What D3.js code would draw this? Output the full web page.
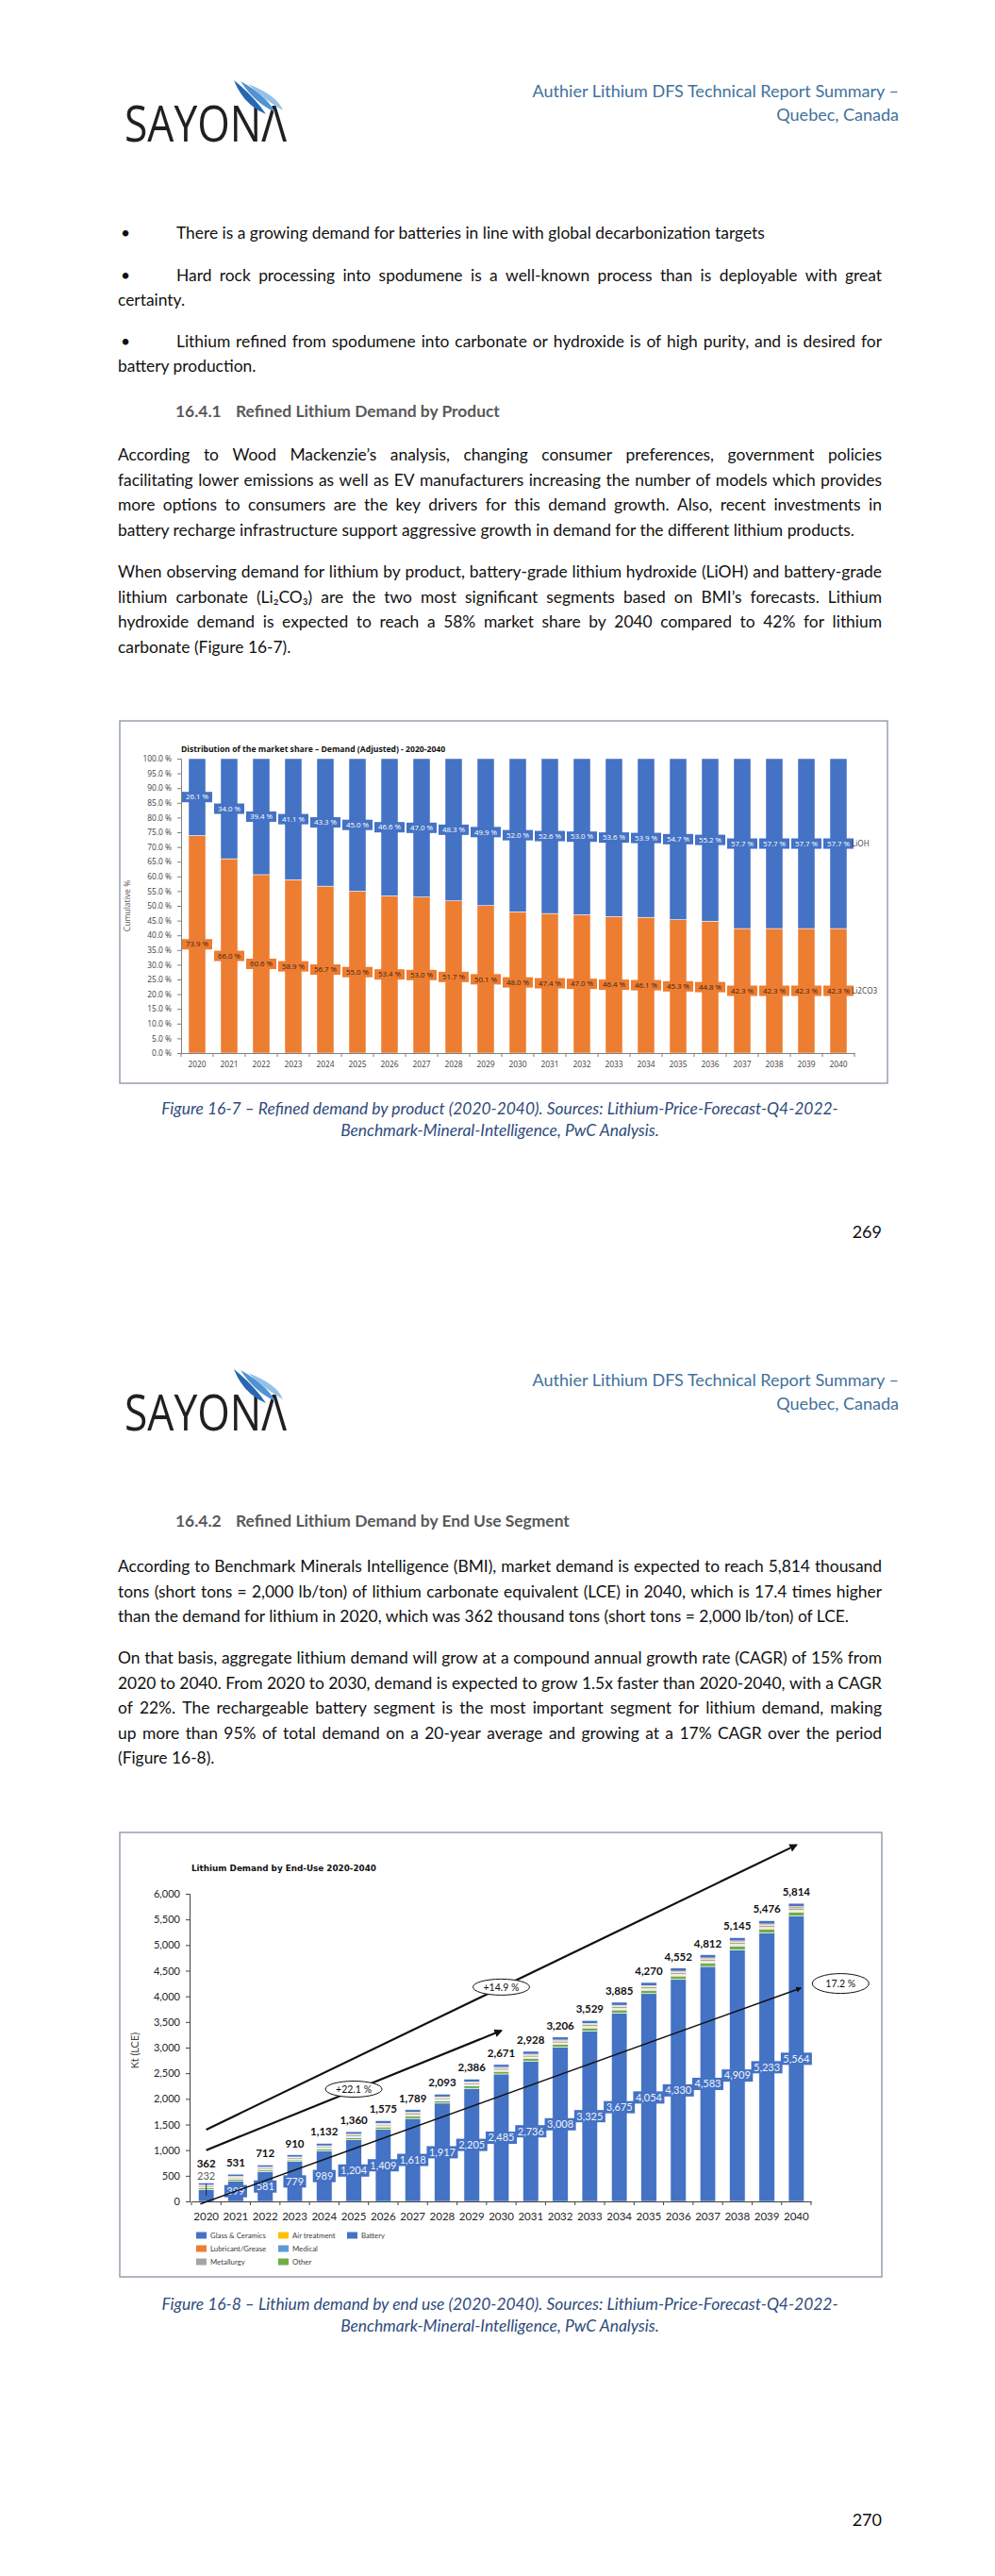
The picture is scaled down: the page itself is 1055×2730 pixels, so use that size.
<!DOCTYPE html>
<html>
<head>
<meta charset="utf-8">
<script src="https://cdn.jsdelivr.net/npm/d3@7"></script>
<style>
  body { margin: 0; background: #fff; }
  svg { display: block; }
</style>
</head>
<body>
<svg id="page" width="1055" height="2730"></svg>
<script>
// ---------- Figure 16-7 data (market share, %) ----------
const shareYears = [2020, 2021, 2022, 2023, 2024, 2025, 2026, 2027, 2028, 2029, 2030,
                    2031, 2032, 2033, 2034, 2035, 2036, 2037, 2038, 2039, 2040];
const li2co3Share = [73.9, 66.0, 60.6, 58.9, 56.7, 55.0, 53.4, 53.0, 51.7, 50.1, 48.0,
                     47.4, 47.0, 46.4, 46.1, 45.3, 44.8, 42.3, 42.3, 42.3, 42.3];
const liohShare = [26.1, 34.0, 39.4, 41.1, 43.3, 45.0, 46.6, 47.0, 48.3, 49.9, 52.0,
                   52.6, 53.0, 53.6, 53.9, 54.7, 55.2, 57.7, 57.7, 57.7, 57.7];
const shareTicks = [0, 5, 10, 15, 20, 25, 30, 35, 40, 45, 50, 55, 60, 65, 70, 75, 80, 85, 90, 95, 100];

// ---------- Figure 16-8 data (Kt LCE) ----------
const demandYears = shareYears;
const demandTotal = [362, 531, 712, 910, 1132, 1360, 1575, 1789, 2093, 2386, 2671,
                     2928, 3206, 3529, 3885, 4270, 4552, 4812, 5145, 5476, 5814];
const battery = [232, 399, 581, 779, 989, 1204, 1409, 1618, 1917, 2205, 2485,
                 2736, 3008, 3325, 3675, 4054, 4330, 4583, 4909, 5233, 5564];
const glassCeramics = [45, 45, 45, 44, 47, 50, 52, 53, 54, 55, 56, 57, 58, 59, 60, 61, 62, 63, 64, 65, 66];
const lubricant = [15, 15, 15, 15, 16, 17, 18, 18, 19, 19, 20, 20, 21, 21, 22, 22, 23, 23, 24, 24, 25];
const metallurgy = [25, 25, 25, 25, 27, 29, 31, 32, 33, 34, 35, 36, 37, 38, 39, 40, 41, 42, 43, 44, 45];
const airTreatment = [10, 10, 10, 10, 11, 12, 13, 13, 14, 14, 14, 15, 15, 16, 16, 17, 17, 18, 18, 19, 19];
const medical = [5, 6, 6, 6, 7, 8, 9, 9, 9, 10, 10, 10, 11, 11, 12, 12, 12, 13, 13, 14, 14];
const other = [30, 31, 30, 31, 35, 40, 43, 46, 47, 49, 51, 54, 56, 59, 61, 64, 67, 70, 74, 77, 81];
const demandTicks = [0, 500, 1000, 1500, 2000, 2500, 3000, 3500, 4000, 4500, 5000, 5500, 6000];
// trend arrows, in (year, Kt) space
const trends = [
  { from: [2020, 1400], to: [2040, 6950], label: '+14.9 %', at: [2030, 4180], w: 2.2 },
  { from: [2020, 1000], to: [2030, 3330], label: '+22.1 %', at: [2025, 2190], w: 2.2 },
  { from: [2019.8, -50], to: [2040.15, 4160], label: '17.2 %', at: [2041.5, 4250], w: 1.5 }
];

const svg = d3.select('#page');
const BODY = 'Lato, "Open Sans", sans-serif';

// ---------- text helpers ----------
const styles = {
  header:  { family: BODY, size: 18, fill: '#41719C' },
  body:    { family: BODY, size: 17.4, fill: '#111' },
  heading: { family: BODY, size: 17.4, fill: '#595959', weight: 'bold' },
  caption: { family: BODY, size: 17.4, fill: '#2F4B7C', italic: true },
  pagenum: { family: BODY, size: 18, fill: '#111' }
};

function styled(sel, style) {
  return sel.attr('font-family', style.family)
    .attr('font-size', style.size)
    .attr('fill', style.fill)
    .attr('font-weight', style.weight || 'normal')
    .attr('font-style', style.italic ? 'italic' : 'normal');
}

function textLine(str, x, y, style, opts = {}) {
  if (!opts.width) {
    return styled(svg.append('text'), style)
      .attr('x', x).attr('y', y)
      .attr('text-anchor', opts.anchor || 'start')
      .text(str);
  }
  // justify: every word is its own text, spread so the line fills the width
  const g = svg.append('g');
  const words = str.split(/\s+/);
  const nodes = words.map(w => styled(g.append('text'), style).attr('y', y).text(w));
  const widths = nodes.map(n => n.node().getComputedTextLength());
  const gap = (opts.width - d3.sum(widths)) / (words.length - 1);
  let cx = x;
  nodes.forEach((n, i) => { n.attr('x', cx); cx += widths[i] + gap; });
  return g;
}

function drawHeader(dy) {
  textLine('Authier Lithium DFS Technical Report Summary –', 953, 103 + dy, styles.header, { anchor: 'end' });
  textLine('Quebec, Canada', 953, 128 + dy, styles.header, { anchor: 'end' });

  const g = svg.append('g').attr('transform', `translate(132, ${113 + dy})`);
  g.append('text')
    .attr('x', 0).attr('y', 37)
    .attr('font-family', '"Open Sans", sans-serif')
    .attr('font-size', 53)
    .attr('textLength', 172)
    .attr('lengthAdjust', 'spacingAndGlyphs')
    .attr('fill', '#231f20')
    .text('SAYONΛ');
  const blades = [
    { d: 'M116,-28 Q126,-2 150,8 Q138,-10 116,-28 Z', c: '#2867b2' },
    { d: 'M123,-27 Q138,-4 160,6 Q150,-12 123,-27 Z', c: '#4f93d2' },
    { d: 'M131,-24 Q150,-6 168,4 Q162,-12 131,-24 Z', c: '#94c1e8' }
  ];
  g.selectAll('path.blade').data(blades).join('path')
    .attr('class', 'blade')
    .attr('d', d => d.d)
    .attr('fill', d => d.c);
}

function bullet(y) {
  styled(svg.append('text'), styles.body).attr('x', 128).attr('y', y).text('•');
}

// ---------- page 1 text ----------
drawHeader(0);

bullet(253);
textLine('There is a growing demand for batteries in line with global decarbonization targets', 187, 253, styles.body);
bullet(298);
textLine('Hard rock processing into spodumene is a well-known process than is deployable with great', 187, 298, styles.body, { width: 748 });
textLine('certainty.', 125, 324, styles.body);
bullet(368);
textLine('Lithium refined from spodumene into carbonate or hydroxide is of high purity, and is desired for', 187, 368, styles.body, { width: 748 });
textLine('battery production.', 125, 394, styles.body);

textLine('16.4.1', 186, 442, styles.heading);
textLine('Refined Lithium Demand by Product', 250, 442, styles.heading);

const para1 = [
  ['According to Wood Mackenzie’s analysis, changing consumer preferences, government policies', true],
  ['facilitating lower emissions as well as EV manufacturers increasing the number of models which provides', true],
  ['more options to consumers are the key drivers for this demand growth.  Also, recent investments in', true],
  ['battery recharge infrastructure support aggressive growth in demand for the different lithium products.', false]
];
para1.forEach((l, i) => textLine(l[0], 125, 488 + i * 26.7, styles.body, l[1] ? { width: 810 } : {}));

const para2 = [
  ['When observing demand for lithium by product, battery-grade lithium hydroxide (LiOH) and battery-grade', true],
  ['lithium carbonate (Li₂CO₃) are the two most significant segments based on BMI’s forecasts.  Lithium', true],
  ['hydroxide demand is expected to reach a 58% market share by 2040 compared to 42% for lithium', true],
  ['carbonate (Figure 16-7).', false]
];
para2.forEach((l, i) => textLine(l[0], 125, 612 + i * 26.7, styles.body, l[1] ? { width: 810 } : {}));

// ---------- Figure 16-7 ----------
(function drawShareChart() {
  const g = svg.append('g');
  g.append('rect').attr('x', 127).attr('y', 764).attr('width', 814).attr('height', 384)
    .attr('fill', '#fff').attr('stroke', '#8f99a8').attr('stroke-width', 1.4);

  const x = d3.scaleBand().domain(shareYears).range([192, 906])
    .paddingInner(0.47).paddingOuter(0.235);
  const y = d3.scaleLinear().domain([0, 100]).range([1116, 804]);
  const FONT = '"Open Sans", sans-serif';

  g.append('text').attr('x', 192).attr('y', 797)
    .attr('font-family', FONT).attr('font-size', 8.6).attr('font-weight', 'bold').attr('fill', '#111')
    .text('Distribution of the market share – Demand (Adjusted) - 2020-2040');

  const rows = shareYears.map((yr, i) => ({ yr, c: li2co3Share[i], h: liohShare[i] }));
  const stack = d3.stack().keys(['c', 'h'])(rows);
  const colors = { c: '#ED7D31', h: '#4472C4' };

  stack.forEach(s => {
    g.append('g').selectAll('rect').data(s).join('rect')
      .attr('x', d => x(d.data.yr))
      .attr('y', d => y(d[1]))
      .attr('width', x.bandwidth())
      .attr('height', d => y(d[0]) - y(d[1]))
      .attr('fill', colors[s.key])
      .attr('stroke', '#fff').attr('stroke-width', 0.5);
  });

  // y axis
  const ya = g.append('g').attr('transform', 'translate(192,0)')
    .call(d3.axisLeft(y).tickValues(shareTicks).tickSize(4).tickPadding(6)
      .tickFormat(d => d3.format('.1f')(d) + ' %'));
  ya.selectAll('text').attr('font-family', FONT).attr('font-size', 8.4).attr('fill', '#404040');
  ya.selectAll('line, path').attr('stroke', '#7f7f7f');

  // x axis
  const xa = g.append('g').attr('transform', 'translate(0,1116)')
    .call(d3.axisBottom(x).tickSize(0).tickSizeOuter(0).tickPadding(9));
  xa.selectAll('text').attr('font-family', FONT).attr('font-size', 8.4).attr('fill', '#404040');
  xa.select('path').attr('stroke', '#7f7f7f');
  g.append('g').selectAll('line').data(shareYears.concat(['end'])).join('line')
    .attr('x1', (d, i) => x.range()[0] + i * x.step()).attr('x2', (d, i) => x.range()[0] + i * x.step())
    .attr('y1', 1116).attr('y2', 1120).attr('stroke', '#7f7f7f');

  g.append('text').attr('transform', 'translate(138,960) rotate(-90)')
    .attr('text-anchor', 'middle').attr('font-family', FONT).attr('font-size', 8.6).attr('fill', '#595959')
    .text('Cumulative %');

  // data labels
  stack.forEach(s => {
    const lg = g.append('g').selectAll('g').data(s).join('g')
      .attr('transform', d => `translate(${x(d.data.yr) + x.bandwidth() / 2},${y((d[0] + d[1]) / 2)})`);
    lg.append('rect').attr('x', -16).attr('y', -5.5).attr('width', 32).attr('height', 11)
      .attr('fill', colors[s.key]);
    lg.append('text').attr('text-anchor', 'middle').attr('dy', '0.35em')
      .attr('font-family', FONT).attr('font-size', 7.9)
      .attr('fill', s.key === 'h' ? '#fff' : '#3a2416')
      .text(d => d3.format('.1f')(d[1] - d[0]) + ' %');
  });

  // series names next to the last bar
  const last = stack.map(s => s[s.length - 1]);
  g.append('g').selectAll('text').data([['LiOH', last[1]], ['Li2CO3', last[0]]]).join('text')
    .attr('x', x(2040) + x.bandwidth() + 5)
    .attr('y', d => y((d[1][0] + d[1][1]) / 2))
    .attr('dy', '0.35em')
    .attr('font-family', FONT).attr('font-size', 8.2).attr('fill', '#404040')
    .text(d => d[0]);
})();

textLine('Figure 16-7 – Refined demand by product (2020-2040).  Sources: Lithium-Price-Forecast-Q4-2022-', 530, 1181, styles.caption, { anchor: 'middle' });
textLine('Benchmark-Mineral-Intelligence, PwC Analysis.', 530, 1204, styles.caption, { anchor: 'middle' });
textLine('269', 935, 1312, styles.pagenum, { anchor: 'end' });

// ---------- page 2 text ----------
const P2 = 1366;
drawHeader(P2);
textLine('16.4.2', 186, 1618, styles.heading);
textLine('Refined Lithium Demand by End Use Segment', 250, 1618, styles.heading);

const para3 = [
  ['According to Benchmark Minerals Intelligence (BMI), market demand is expected to reach 5,814 thousand', true],
  ['tons (short tons = 2,000 lb/ton) of lithium carbonate equivalent (LCE) in 2040, which is 17.4 times higher', true],
  ['than the demand for lithium in 2020, which was 362 thousand tons (short tons = 2,000 lb/ton) of LCE.', false]
];
para3.forEach((l, i) => textLine(l[0], 125, 1666 + i * 26.6, styles.body, l[1] ? { width: 810 } : {}));

const para4 = [
  ['On that basis, aggregate lithium demand will grow at a compound annual growth rate (CAGR) of 15% from', true],
  ['2020 to 2040.  From 2020 to 2030, demand is expected to grow 1.5x faster than 2020-2040, with a CAGR', true],
  ['of 22%.  The rechargeable battery segment is the most important segment for lithium demand, making', true],
  ['up more than 95% of total demand on a 20-year average and growing at a 17% CAGR over the period', true],
  ['(Figure 16-8).', false]
];
para4.forEach((l, i) => textLine(l[0], 125, 1763 + i * 26.6, styles.body, l[1] ? { width: 810 } : {}));

// ---------- Figure 16-8 ----------
(function drawDemandChart() {
  const g = svg.append('g');
  g.append('rect').attr('x', 127).attr('y', 1942).attr('width', 808).attr('height', 471)
    .attr('fill', '#fff').attr('stroke', '#8f99a8').attr('stroke-width', 1.4);

  const x = d3.scaleBand().domain(demandYears).range([203, 860])
    .paddingInner(0.47).paddingOuter(0.235);
  const y = d3.scaleLinear().domain([0, 6000]).range([2333, 2007]);
  const half = x.bandwidth() / 2;
  const xYear = d3.scaleLinear().domain([2020, 2040]).range([x(2020) + half, x(2040) + half]);

  g.append('text').attr('x', 203).attr('y', 1983)
    .attr('font-family', '"DejaVu Sans", sans-serif').attr('font-size', 8.8).attr('font-weight', 'bold')
    .attr('fill', '#111').text('Lithium Demand by End-Use 2020-2040');

  const series = [
    { key: 'battery', name: 'Battery', color: '#4472C4', values: battery },
    { key: 'other', name: 'Other', color: '#70AD47', values: other },
    { key: 'medical', name: 'Medical', color: '#5B9BD5', values: medical },
    { key: 'air', name: 'Air treatment', color: '#FFC000', values: airTreatment },
    { key: 'metal', name: 'Metallurgy', color: '#A5A5A5', values: metallurgy },
    { key: 'lube', name: 'Lubricant/Grease', color: '#ED7D31', values: lubricant },
    { key: 'glass', name: 'Glass &  Ceramics', color: '#4472C4', values: glassCeramics }
  ];
  const rows = demandYears.map((yr, i) => {
    const r = { yr, total: demandTotal[i] };
    series.forEach(s => { r[s.key] = s.values[i]; });
    return r;
  });
  const stack = d3.stack().keys(series.map(s => s.key))(rows);

  stack.forEach((s, si) => {
    g.append('g').selectAll('rect').data(s).join('rect')
      .attr('x', d => x(d.data.yr))
      .attr('y', d => y(d[1]))
      .attr('width', x.bandwidth())
      .attr('height', d => y(d[0]) - y(d[1]))
      .attr('fill', series[si].color)
      .attr('stroke', '#fff').attr('stroke-width', 0.6);
  });

  // axes
  const ya = g.append('g').attr('transform', 'translate(201,0)')
    .call(d3.axisLeft(y).tickValues(demandTicks).tickSize(4).tickPadding(6).tickFormat(d3.format(',')));
  ya.selectAll('text').attr('font-family', BODY).attr('font-size', 11).attr('fill', '#262626');
  ya.selectAll('line, path').attr('stroke', '#404040');

  const xa = g.append('g').attr('transform', 'translate(0,2333)')
    .call(d3.axisBottom(x).tickSize(0).tickSizeOuter(0).tickPadding(12));
  xa.selectAll('text').attr('font-family', BODY).attr('font-size', 11.5).attr('fill', '#262626');
  xa.select('path').attr('stroke', '#404040');
  g.append('g').selectAll('line').data(demandYears.concat(['end'])).join('line')
    .attr('x1', (d, i) => x.range()[0] + i * x.step()).attr('x2', (d, i) => x.range()[0] + i * x.step())
    .attr('y1', 2333).attr('y2', 2337).attr('stroke', '#404040');

  g.append('text').attr('transform', 'translate(147,2173) rotate(-90)')
    .attr('text-anchor', 'middle').attr('font-family', BODY).attr('font-size', 11).attr('fill', '#404040')
    .text('Kt (LCE)');

  // battery labels
  const bat = stack[0];
  bat.forEach(d => {
    const cx = x(d.data.yr) + half;
    const segH = y(d[0]) - y(d[1]);
    const txt = d3.format(',')(d[1] - d[0]);
    if (segH < 14) {
      const top = y(d.data.total);
      g.append('line').attr('x1', cx).attr('x2', cx).attr('y1', top + 1).attr('y2', y((d[0] + d[1]) / 2))
        .attr('stroke', '#111').attr('stroke-width', 0.8);
      g.append('text').attr('x', cx).attr('y', top - 3).attr('text-anchor', 'middle')
        .attr('font-family', BODY).attr('font-size', 11).attr('fill', '#595959').text(txt);
      d.data.totalOffset = 16;
      return;
    }
    const t = g.append('text').attr('x', cx).attr('y', y((d[0] + d[1]) / 2)).attr('dy', '0.35em')
      .attr('text-anchor', 'middle').attr('font-family', BODY).attr('font-size', 11)
      .attr('fill', '#eef3fb').text(txt);
    const w = t.node().getComputedTextLength() + 5;
    g.insert('rect', () => t.node())
      .attr('x', cx - w / 2).attr('y', y((d[0] + d[1]) / 2) - 6.5)
      .attr('width', w).attr('height', 13).attr('fill', '#4472C4');
  });

  // totals
  g.append('g').selectAll('text').data(rows).join('text')
    .attr('x', d => x(d.yr) + half)
    .attr('y', d => y(d.total) - (d.totalOffset || 8))
    .attr('text-anchor', 'middle')
    .attr('font-family', BODY).attr('font-size', 11.5).attr('font-weight', 'bold').attr('fill', '#111')
    .text(d => d3.format(',')(d.total));

  // trend arrows
  const defs = svg.append('defs');
  defs.append('marker').attr('id', 'arrow').attr('viewBox', '0 0 10 10')
    .attr('refX', 8).attr('refY', 5).attr('markerWidth', 4).attr('markerHeight', 4)
    .attr('orient', 'auto-start-reverse')
    .append('path').attr('d', 'M0,0 L10,5 L0,10 Z').attr('fill', '#111');

  trends.forEach(tr => {
    g.append('line')
      .attr('x1', xYear(tr.from[0])).attr('y1', y(tr.from[1]))
      .attr('x2', xYear(tr.to[0])).attr('y2', y(tr.to[1]))
      .attr('stroke', '#111').attr('stroke-width', tr.w)
      .attr('marker-end', 'url(#arrow)');
    const lg = g.append('g').attr('transform', `translate(${xYear(tr.at[0])},${y(tr.at[1])})`);
    lg.append('ellipse').attr('rx', 30).attr('ry', tr.w > 2 ? 8.5 : 10.5)
      .attr('fill', '#fff').attr('stroke', '#111').attr('stroke-width', 1);
    lg.append('text').attr('text-anchor', 'middle').attr('dy', '0.35em')
      .attr('font-family', BODY).attr('font-size', 10.5).attr('fill', '#111').text(tr.label);
  });

  // legend
  const legendOrder = ['glass', 'lube', 'metal', 'air', 'medical', 'other', 'battery'];
  const colX = [208, 295, 368];
  const legend = g.append('g').selectAll('g').data(legendOrder).join('g')
    .attr('transform', (k, i) => `translate(${colX[Math.floor(i / 3)]},${2369 + (i % 3) * 14})`);
  legend.append('rect').attr('x', 0).attr('y', -3.5).attr('width', 11).attr('height', 7)
    .attr('fill', k => series.find(s => s.key === k).color);
  legend.append('text').attr('x', 15).attr('dy', '0.35em')
    .attr('font-family', BODY).attr('font-size', 7.8).attr('fill', '#404040')
    .text(k => series.find(s => s.key === k).name);
})();

textLine('Figure 16-8 – Lithium demand by end use (2020-2040).  Sources: Lithium-Price-Forecast-Q4-2022-', 530, 2448, styles.caption, { anchor: 'middle' });
textLine('Benchmark-Mineral-Intelligence, PwC Analysis.', 530, 2471, styles.caption, { anchor: 'middle' });
textLine('270', 935, 2677, styles.pagenum, { anchor: 'end' });
</script>
</body>
</html>
